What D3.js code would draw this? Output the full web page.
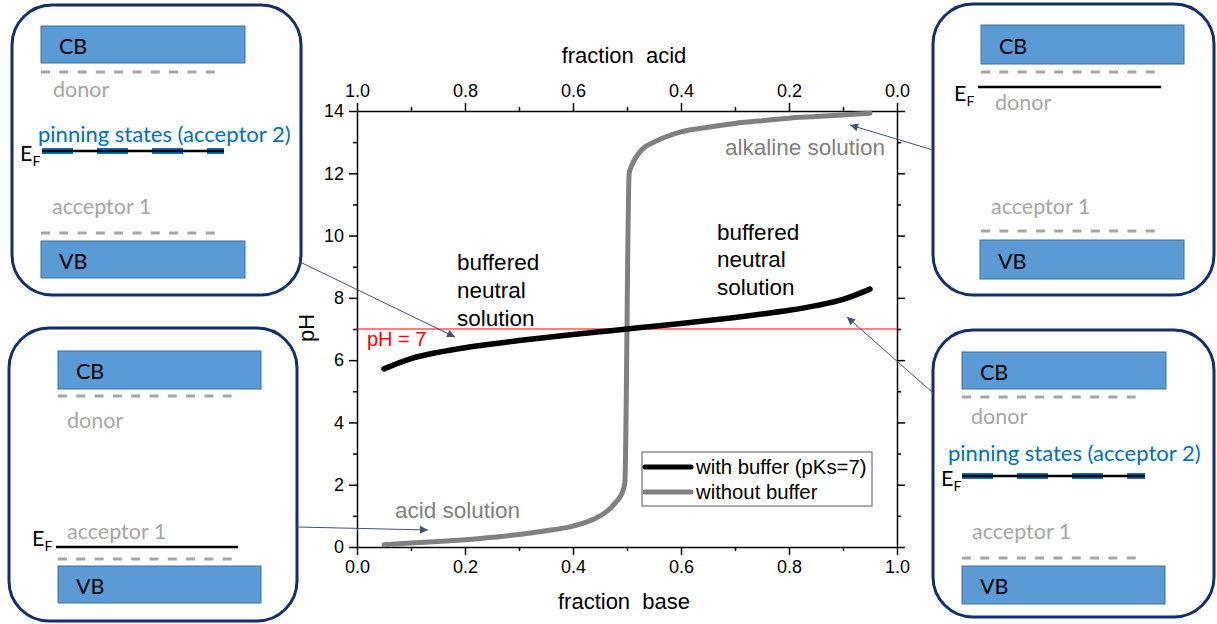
<!DOCTYPE html>
<html><head><meta charset="utf-8">
<script src="https://cdn.jsdelivr.net/npm/d3@7"></script>
<style>body{margin:0;background:#fff}svg{display:block}</style>
</head><body><svg id="c" width="1217" height="624"></svg>
<script>
// ---------- data ----------
const baseFractionBuffer = [0.05,0.1,0.15,0.2,0.25,0.3,0.35,0.4,0.45,0.5,0.55,0.6,0.65,0.7,0.75,0.8,0.85,0.9,0.95];
const phBuffer =           [5.72,6.05,6.25,6.4,6.52,6.63,6.73,6.82,6.91,7.0,7.09,7.18,7.27,7.37,7.48,7.6,7.75,7.95,8.28];
const baseFractionNoBuffer = [0.05,0.1,0.15,0.2,0.25,0.3,0.35,0.4,0.45,0.47,0.48,0.49,0.496,0.504,0.51,0.52,0.53,0.55,0.6,0.65,0.7,0.75,0.8,0.85,0.9,0.95];
const phNoBuffer =           [0.07,0.13,0.18,0.23,0.31,0.4,0.52,0.67,1.0,1.25,1.45,1.7,2.05,12.0,12.3,12.6,12.8,13.0,13.33,13.48,13.6,13.69,13.77,13.82,13.87,13.93];
const bottomTicks = [0,0.2,0.4,0.6,0.8,1.0];
const topTicks = [1.0,0.8,0.6,0.4,0.2,0.0];
const yTicks = [0,2,4,6,8,10,12,14];
const legendLabels = ["with buffer (pKs=7)","without buffer"];
const neutralPH = 7;

const svg = d3.select("#c");
const FONT = "'Liberation Sans', Arial, sans-serif";
const PFONT = "Lato, 'Open Sans', sans-serif";

const M = {l:357, r:897, t:111, b:547};
const x = d3.scaleLinear().domain([0,1]).range([M.l,M.r]);
const xAcid = d3.scaleLinear().domain([1,0]).range([M.l,M.r]);
const y = d3.scaleLinear().domain([0,14]).range([M.b,M.t]);

// ---------- axes ----------
function styleAxis(g){
  g.selectAll(".domain").attr("stroke","#000").attr("stroke-width",1.5);
  g.selectAll(".tick line").attr("stroke","#000").attr("stroke-width",1.5);
  g.selectAll("text").attr("font-family",FONT).attr("font-size",18).attr("fill","#000");
}
const minorX = d3.range(0.1,1,0.2);
const minorY = d3.range(1,14,2);

// bottom
svg.append("g").attr("transform",`translate(0,${M.b})`)
  .call(d3.axisBottom(x).tickValues(bottomTicks).tickFormat(d3.format(".1f")).tickSize(8).tickSizeOuter(0).tickPadding(5))
  .call(styleAxis);
svg.append("g").attr("transform",`translate(0,${M.b})`)
  .call(d3.axisBottom(x).tickValues(minorX).tickFormat("").tickSize(4).tickSizeOuter(0))
  .call(styleAxis).select(".domain").remove();
// top
svg.append("g").attr("transform",`translate(0,${M.t})`)
  .call(d3.axisTop(xAcid).tickValues(topTicks).tickFormat(d3.format(".1f")).tickSize(8).tickSizeOuter(0).tickPadding(6))
  .call(styleAxis);
svg.append("g").attr("transform",`translate(0,${M.t})`)
  .call(d3.axisTop(xAcid).tickValues(minorX).tickFormat("").tickSize(4).tickSizeOuter(0))
  .call(styleAxis).select(".domain").remove();
// left
svg.append("g").attr("transform",`translate(${M.l},0)`)
  .call(d3.axisLeft(y).tickValues(yTicks).tickSize(8).tickSizeOuter(0).tickPadding(5))
  .call(styleAxis);
svg.append("g").attr("transform",`translate(${M.l},0)`)
  .call(d3.axisLeft(y).tickValues(minorY).tickFormat("").tickSize(4).tickSizeOuter(0))
  .call(styleAxis).select(".domain").remove();
// right
svg.append("g").attr("transform",`translate(${M.r},0)`)
  .call(d3.axisRight(y).tickValues(yTicks).tickFormat("").tickSize(8).tickSizeOuter(0))
  .call(styleAxis);
svg.append("g").attr("transform",`translate(${M.r},0)`)
  .call(d3.axisRight(y).tickValues(minorY).tickFormat("").tickSize(4).tickSizeOuter(0))
  .call(styleAxis).select(".domain").remove();

// axis titles
svg.append("text").attr("x",(M.l+M.r)/2-3).attr("y",63).attr("text-anchor","middle")
  .attr("font-family",FONT).attr("font-size",22).style("white-space","pre").text("fraction  acid");
svg.append("text").attr("x",(M.l+M.r)/2-3).attr("y",609).attr("text-anchor","middle")
  .attr("font-family",FONT).attr("font-size",22).style("white-space","pre").text("fraction  base");
svg.append("text").attr("transform","translate(314,328) rotate(-90)").attr("text-anchor","middle")
  .attr("font-family",FONT).attr("font-size",22).text("pH");

// neutral line
svg.append("line").attr("x1",x(0)).attr("x2",x(1)).attr("y1",y(neutralPH)).attr("y2",y(neutralPH))
  .attr("stroke","#ff0000").attr("stroke-width",1);
svg.append("text").attr("x",367).attr("y",346).attr("font-family",FONT).attr("font-size",20)
  .attr("fill","#ff0000").text("pH = 7");

// curves
const line = d3.line().x(d=>x(d[0])).y(d=>y(d[1])).curve(d3.curveMonotoneX);
svg.append("path").datum(baseFractionNoBuffer.map((v,i)=>[v,phNoBuffer[i]]))
  .attr("d",line).attr("fill","none").attr("stroke","#808080").attr("stroke-width",5).attr("stroke-linecap","round").attr("stroke-linejoin","round");
svg.append("path").datum(baseFractionBuffer.map((v,i)=>[v,phBuffer[i]]))
  .attr("d",line).attr("fill","none").attr("stroke","#000").attr("stroke-width",5.5).attr("stroke-linecap","round").attr("stroke-linejoin","round");

// annotations
function multi(xp, ys, lines, color, size){
  lines.forEach((t,i)=>svg.append("text").attr("x",xp).attr("y",ys[i]).attr("dominant-baseline","central")
    .attr("font-family",FONT).attr("font-size",size).attr("fill",color).text(t));
}
multi(457,[262,290,318],["buffered","neutral","solution"],"#000",22.5);
multi(717,[232,259,287],["buffered","neutral","solution"],"#000",22.5);
multi(725,[147],["alkaline solution"],"#808080",22.5);
multi(395,[510],["acid solution"],"#808080",22.5);

// legend
const lg = svg.append("g");
lg.append("rect").attr("x",642).attr("y",452).attr("width",230).attr("height",54)
  .attr("fill","#fff").attr("stroke","#555").attr("stroke-width",1);
const legColors = ["#000","#808080"];
legendLabels.forEach((t,i)=>{
  const yy = 467 + i*25;
  lg.append("line").attr("x1",645).attr("x2",691).attr("y1",yy).attr("y2",yy)
    .attr("stroke",legColors[i]).attr("stroke-width",5).attr("stroke-linecap","round");
  lg.append("text").attr("x",696).attr("y",yy).attr("dominant-baseline","central")
    .attr("font-family",FONT).attr("font-size",20.3).text(t);
});

// ---------- band diagram panels ----------
const BLUE="#5b9bd5", NAVY="#102f6b", GREY="#a6a6a6", PIN="#0070c0";
function panel(p){
  const g = svg.append("g");
  g.append("rect").attr("x",p.box[0]).attr("y",p.box[1]).attr("width",p.box[2]-p.box[0]).attr("height",p.box[3]-p.box[1])
    .attr("rx",40).attr("ry",40).attr("fill","#fff").attr("stroke",NAVY).attr("stroke-width",3);
  [["CB",p.cb],["VB",p.vb]].forEach(([lab,r])=>{
    g.append("rect").attr("x",r[0]).attr("y",r[1]).attr("width",r[2]-r[0]).attr("height",r[3]-r[1])
      .attr("fill",BLUE).attr("stroke","#41719c").attr("stroke-width",1);
    g.append("text").attr("x",r[0]+18).attr("y",(r[1]+r[3])/2+1).attr("dominant-baseline","central")
      .attr("font-family",PFONT).attr("font-size",21.5).attr("fill","#000").text(lab);
  });
  p.dash.forEach(d=>g.append("line").attr("x1",d[0]).attr("x2",d[1]).attr("y1",d[2]).attr("y2",d[2])
    .attr("stroke",GREY).attr("stroke-width",3).attr("stroke-dasharray","9 9.3"));
  g.append("text").attr("x",p.donor[0]).attr("y",p.donor[1]).attr("dominant-baseline","central")
    .attr("font-family",PFONT).attr("font-size",21.5).attr("fill",GREY).text("donor");
  g.append("text").attr("x",p.acc[0]).attr("y",p.acc[1]).attr("dominant-baseline","central")
    .attr("font-family",PFONT).attr("font-size",21.5).attr("fill",GREY).text("acceptor 1");
  if(p.pin){
    g.append("text").attr("x",p.pin[0]).attr("y",p.pin[1]).attr("dominant-baseline","central")
      .attr("font-family",PFONT).attr("font-size",22).attr("fill",PIN).text("pinning states (acceptor 2)");
    g.append("line").attr("x1",p.ef[0]).attr("x2",p.ef[1]).attr("y1",p.ef[2]).attr("y2",p.ef[2])
      .attr("stroke",PIN).attr("stroke-width",6).attr("stroke-dasharray","31 24");
  }
  g.append("line").attr("x1",p.ef[0]).attr("x2",p.ef[1]).attr("y1",p.ef[2]).attr("y2",p.ef[2])
    .attr("stroke","#000").attr("stroke-width",2.5);
  const t = g.append("text").attr("x",p.e[0]).attr("y",p.e[1]).attr("dominant-baseline","central")
    .attr("font-family",PFONT).attr("font-size",21.5).attr("fill","#000");
  t.append("tspan").text("E");
  t.append("tspan").attr("font-size",14).attr("dy",7).text("F");
}
panel({box:[12,5,301,295], cb:[41,26,245,63], vb:[41,241,245,278], dash:[[41,218,72],[41,218,233]],
  donor:[53,89], acc:[52,206], pin:[38,133], ef:[42,224,151], e:[20,153]});
panel({box:[9,328,297,621], cb:[58,351,261,389], vb:[58,566,261,603], dash:[[58,235,396],[58,235,559]],
  donor:[67,420], acc:[67,531], ef:[56,238,547], e:[32,538]});
panel({box:[933,4,1214,295], cb:[981,25,1184,64], vb:[980,240,1184,279], dash:[[981,1158,72],[981,1158,231]],
  donor:[995,102], acc:[991,206], ef:[978,1161,87], e:[954,93]});
panel({box:[933,330,1214,617], cb:[962,352,1166,389], vb:[962,566,1165,604], dash:[[962,1138,397],[962,1138,558]],
  donor:[971,416], acc:[972,531], pin:[948,452], ef:[962,1145,476], e:[941,478]});

// ---------- arrows ----------
const defs = svg.append("defs");
defs.append("marker").attr("id","ah").attr("viewBox","0 0 10 10").attr("refX",10).attr("refY",5)
  .attr("markerWidth",10).attr("markerHeight",8).attr("markerUnits","userSpaceOnUse").attr("orient","auto")
  .append("path").attr("d","M0,0L10,5L0,10Z").attr("fill","#44546a");
[[300,262,455,337],[297,527,428,530],[933,150,850,125],[933,393,847,317]].forEach(a=>{
  svg.append("line").attr("x1",a[0]).attr("y1",a[1]).attr("x2",a[2]).attr("y2",a[3])
    .attr("stroke","#44546a").attr("stroke-width",1).attr("marker-end","url(#ah)");
});
</script></body></html>
